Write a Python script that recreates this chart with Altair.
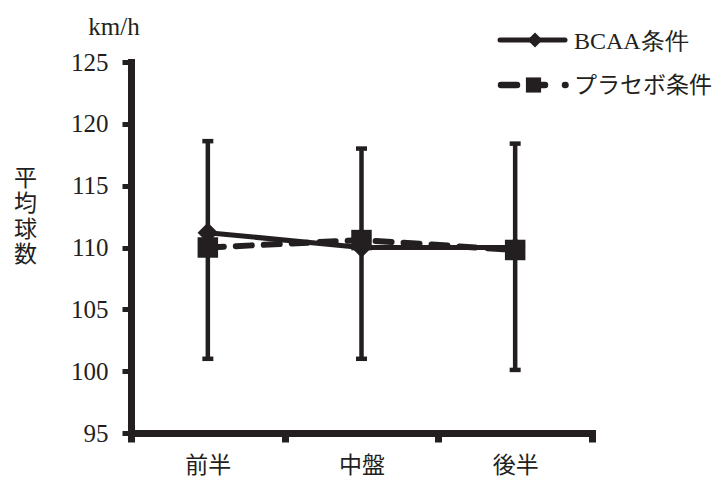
import altair as alt
import pandas as pd

# ---- data ----
categories = ["前半", "中盤", "後半"]
bcaa = [111.2, 110.0, 110.0]
placebo = [110.0, 110.6, 109.8]
err_high = [118.6, 118.0, 118.4]
err_low = [101.0, 101.0, 100.1]
series_names = ["BCAA条件", "プラセボ条件"]
y_ticks = [95, 100, 105, 110, 115, 120, 125]

INK = "#231f20"
FONT = "Liberation Serif"
CJK = "Noto Sans CJK JP"

pos = [i + 0.5 for i in range(len(categories))]
df = pd.DataFrame({
    "pos": pos,
    "cat": categories,
    "bcaa": bcaa,
    "placebo": placebo,
    "hi": err_high,
    "lo": err_low,
})

label_expr = " : ".join(
    f"datum.value == {p} ? '{c}'" for p, c in zip(pos, categories)
) + " : ''"

x_axis = alt.Axis(
    values=[0, 0.5, 1, 1.5, 2, 2.5, 3],
    labelExpr=label_expr,
    title=None,
    grid=False,
    domainColor=INK, domainWidth=7, domainCap="square",
    tickColor=INK, tickWidth=7, tickSize=9,
    tickOpacity={"condition": {"test": "datum.value % 1 !== 0", "value": 0}, "value": 1},
    labelFont=CJK, labelFontSize=23, labelColor=INK, labelPadding=12,
    labelAngle=0,
)
y_axis = alt.Axis(
    values=y_ticks,
    title=["平", "均", "球", "数"],
    titleAngle=0, titleAlign="center", titleBaseline="top",
    titleX=-106, titleY=105, titleLineHeight=25.5,
    titleFont=CJK, titleFontSize=23, titleFontWeight="normal", titleColor=INK,
    grid=False,
    domainColor=INK, domainWidth=7, domainCap="square",
    tickColor=INK, tickWidth=5, tickSize=9,
    labelFont=FONT, labelFontSize=25, labelColor=INK, labelPadding=14,
)

x = alt.X("pos:Q", scale=alt.Scale(domain=[0, 3], nice=False, zero=False), axis=x_axis)
yscale = alt.Scale(domain=[95, 125], nice=False, zero=False)


def Y(field):
    return alt.Y(field, scale=yscale, axis=y_axis)


base = alt.Chart(df)

err_rule = base.mark_rule(color=INK, strokeWidth=4.5).encode(
    x=x, y=Y("lo:Q"), y2="hi:Q"
)
cap_hi = base.mark_tick(color=INK, orient="horizontal", size=11, thickness=4.5, opacity=1).encode(
    x=x, y=Y("hi:Q")
)
cap_lo = base.mark_tick(color=INK, orient="horizontal", size=11, thickness=4.5, opacity=1).encode(
    x=x, y=Y("lo:Q")
)

pl_line = base.mark_line(color=INK, strokeWidth=6, strokeDash=[16, 12], strokeCap="round").encode(
    x=x, y=Y("placebo:Q")
)
bc_line = base.mark_line(color=INK, strokeWidth=5).encode(
    x=x, y=Y("bcaa:Q")
)
bc_pts = base.mark_point(shape="diamond", filled=True, color=INK, size=420, opacity=1).encode(
    x=x, y=Y("bcaa:Q")
)
pl_pts = base.mark_point(shape="square", filled=True, color=INK, size=420, opacity=1).encode(
    x=x, y=Y("placebo:Q")
)

# ---- unit label and hand-made legend (pixel positions in plot space) ----
unit = alt.Chart(pd.DataFrame({"t": ["km/h"]})).mark_text(
    font=FONT, fontSize=25, color=INK, align="center", baseline="alphabetic"
).encode(x=alt.value(-17), y=alt.value(-27), text="t:N")

leg_bc = pd.DataFrame({"name": [series_names[0]]})
leg_pl = pd.DataFrame({"name": [series_names[1]]})

leg_bc_line = alt.Chart(leg_bc).mark_rule(color=INK, strokeWidth=5, strokeCap="round").encode(
    x=alt.value(369), x2=alt.value(434), y=alt.value(-22)
)
leg_bc_pt = alt.Chart(leg_bc).mark_point(shape="diamond", filled=True, color=INK, size=225, opacity=1).encode(
    x=alt.value(404), y=alt.value(-22)
)
leg_bc_text = alt.Chart(leg_bc).mark_text(
    font=FONT, fontSize=24, color=INK, align="left", baseline="middle"
).encode(x=alt.value(443), y=alt.value(-20), text="name:N")

leg_pl_line = alt.Chart(leg_pl).mark_rule(
    color=INK, strokeWidth=6.5, strokeCap="round", strokeDash=[16, 13, 15, 20, 0.5, 100]
).encode(x=alt.value(370), x2=alt.value(440), y=alt.value(23))
leg_pl_pt = alt.Chart(leg_pl).mark_point(shape="square", filled=True, color=INK, size=230, opacity=1).encode(
    x=alt.value(402.5), y=alt.value(23)
)
leg_pl_text = alt.Chart(leg_pl).mark_text(
    font=CJK, fontSize=23, color=INK, align="left", baseline="middle"
).encode(x=alt.value(443), y=alt.value(24), text="name:N")

chart = alt.layer(
    err_rule, cap_hi, cap_lo, pl_line, bc_line, bc_pts, pl_pts,
    unit, leg_bc_line, leg_bc_pt, leg_bc_text, leg_pl_line, leg_pl_pt, leg_pl_text,
).properties(
    width=461,
    height=371,
    background="white",
    autosize=alt.AutoSizeParams(type="none"),
    padding={"left": 123, "top": 54, "right": 123, "bottom": 44},
).configure_view(stroke=None)

chart.save("out.html", embed_options={"renderer": "svg", "actions": False})
